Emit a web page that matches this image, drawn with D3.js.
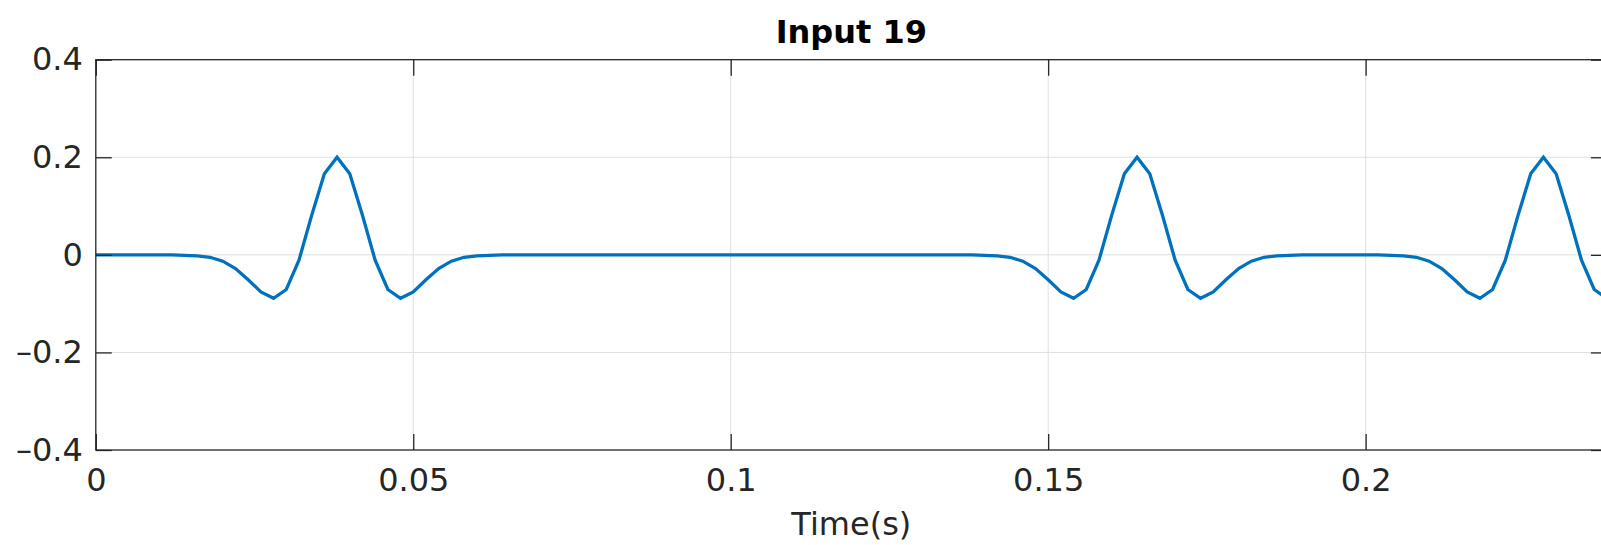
<!DOCTYPE html>
<html>
<head>
<meta charset="utf-8">
<script src="https://cdn.jsdelivr.net/npm/d3@7"></script>
<style>
  html, body { margin: 0; padding: 0; background: #fff; }
  svg { display: block; }
  text { font-family: "DejaVu Sans", sans-serif; fill: #262626; }
</style>
</head>
<body>
<svg id="chart" width="1601" height="545"></svg>
<script>
// Sampling of the input signal (500 Hz, 120 samples)
const sampleStep = 0.002;
const sampleCount = 120;

// Signal amplitude at each sample
const signal = [
  0, 0, 0, 0, 0, 0, 0, -0.001, -0.002, -0.005,
  -0.013, -0.028, -0.051, -0.076, -0.089, -0.071, -0.011, 0.081, 0.166, 0.200,
  0.166, 0.081, -0.011, -0.071, -0.089, -0.076, -0.051, -0.028, -0.013, -0.005,
  -0.002, -0.001, 0, 0, 0, 0, 0, 0, 0, 0,
  0, 0, 0, 0, 0, 0, 0, 0, 0, 0,
  0, 0, 0, 0, 0, 0, 0, 0, 0, 0,
  0, 0, 0, 0, 0, 0, 0, 0, 0, 0,
  -0.001, -0.002, -0.005, -0.013, -0.028, -0.051, -0.076, -0.089, -0.071, -0.011,
  0.081, 0.166, 0.200, 0.166, 0.081, -0.011, -0.071, -0.089, -0.076, -0.051,
  -0.028, -0.013, -0.005, -0.002, -0.001, 0, 0, 0, 0, 0,
  0, 0, -0.001, -0.002, -0.005, -0.013, -0.028, -0.051, -0.076, -0.089,
  -0.071, -0.011, 0.081, 0.166, 0.200, 0.166, 0.081, -0.011, -0.071, -0.089
];

// Tick values and labels
const xTicks = [0, 0.05, 0.1, 0.15, 0.2];
const xTickLabels = ["0", "0.05", "0.1", "0.15", "0.2"];
const yTicks = [-0.4, -0.2, 0, 0.2, 0.4];
const yTickLabels = ["\u20130.4", "\u20130.2", "0", "0.2", "0.4"];

const titleText = "Input 19";
const xLabelText = "Time(s)";

const times = d3.range(sampleCount).map(i => +(i * sampleStep).toFixed(3));
const points = times.map((t, i) => ({ t, v: signal[i] }));

const frame = { left: 95.8, top: 59.7, right: 1606.9, bottom: 450 };
const svg = d3.select("#chart");

const x = d3.scaleLinear().domain([0, times[times.length - 1]]).range([frame.left, frame.right]);
const y = d3.scaleLinear().domain([-0.4, 0.4]).range([frame.bottom, frame.top]);

const axisColor = "#262626";
const gridColor = "#dfdfdf";
const tickLen = 16;
const fontSize = 32;

// Grid lines
const grid = svg.append("g");
grid.selectAll("line.gx").data(xTicks.filter(d => d > 0)).join("line")
  .attr("x1", d => x(d)).attr("x2", d => x(d))
  .attr("y1", frame.top).attr("y2", frame.bottom)
  .attr("stroke", gridColor).attr("stroke-width", 1);
grid.selectAll("line.gy").data(yTicks.filter(d => d > -0.4 && d < 0.4)).join("line")
  .attr("x1", frame.left).attr("x2", frame.right)
  .attr("y1", d => y(d)).attr("y2", d => y(d))
  .attr("stroke", gridColor).attr("stroke-width", 1);

// Signal trace
const line = d3.line().x(d => x(d.t)).y(d => y(d.v));
svg.append("clipPath").attr("id", "plotClip")
  .append("rect").attr("x", frame.left).attr("y", frame.top)
  .attr("width", frame.right - frame.left).attr("height", frame.bottom - frame.top);
svg.append("path")
  .datum(points)
  .attr("d", line)
  .attr("fill", "none")
  .attr("stroke", "#0072BD")
  .attr("stroke-width", 3.3)
  .attr("stroke-linejoin", "miter")
  .attr("clip-path", "url(#plotClip)");

// Axes: inward ticks on all four sides
const xAxis = d3.axisBottom(x).tickValues(xTicks)
  .tickFormat((d, i) => xTickLabels[i]).tickSizeInner(-tickLen).tickSizeOuter(0).tickPadding(18);
const gx = svg.append("g").attr("transform", `translate(0,${frame.bottom})`).call(xAxis);
gx.select(".domain").remove();
gx.selectAll("line").attr("stroke", axisColor).attr("stroke-width", 1.3);
gx.selectAll("text").attr("font-size", fontSize).attr("fill", axisColor)
  .attr("font-family", "DejaVu Sans, sans-serif");

const xAxisTop = d3.axisTop(x).tickValues(xTicks).tickFormat("").tickSizeInner(-tickLen).tickSizeOuter(0);
const gxt = svg.append("g").attr("transform", `translate(0,${frame.top})`).call(xAxisTop);
gxt.select(".domain").remove();
gxt.selectAll("line").attr("stroke", axisColor).attr("stroke-width", 1.3);

const yAxis = d3.axisLeft(y).tickValues(yTicks)
  .tickFormat((d, i) => yTickLabels[i]).tickSizeInner(-tickLen).tickSizeOuter(0).tickPadding(13);
const gy = svg.append("g").attr("transform", `translate(${frame.left},0)`).call(yAxis);
gy.select(".domain").remove();
gy.selectAll("line").attr("stroke", axisColor).attr("stroke-width", 1.3);
gy.selectAll("text").attr("font-size", fontSize).attr("fill", axisColor)
  .attr("font-family", "DejaVu Sans, sans-serif");

const yAxisRight = d3.axisRight(y).tickValues(yTicks).tickFormat("").tickSizeInner(-tickLen).tickSizeOuter(0);
const gyr = svg.append("g").attr("transform", `translate(${frame.right},0)`).call(yAxisRight);
gyr.select(".domain").remove();
gyr.selectAll("line").attr("stroke", axisColor).attr("stroke-width", 1.3);

// Box
svg.append("rect")
  .attr("x", frame.left).attr("y", frame.top)
  .attr("width", frame.right - frame.left).attr("height", frame.bottom - frame.top)
  .attr("fill", "none").attr("stroke", axisColor).attr("stroke-width", 1.3);

// Title and axis label
svg.append("text")
  .attr("x", (frame.left + frame.right) / 2).attr("y", 43)
  .attr("text-anchor", "middle").attr("font-size", 32).attr("font-weight", "bold")
  .style("fill", "#000")
  .text(titleText);

svg.append("text")
  .attr("x", (frame.left + frame.right) / 2).attr("y", 535)
  .attr("text-anchor", "middle").attr("font-size", fontSize)
  .text(xLabelText);
</script>
</body>
</html>
